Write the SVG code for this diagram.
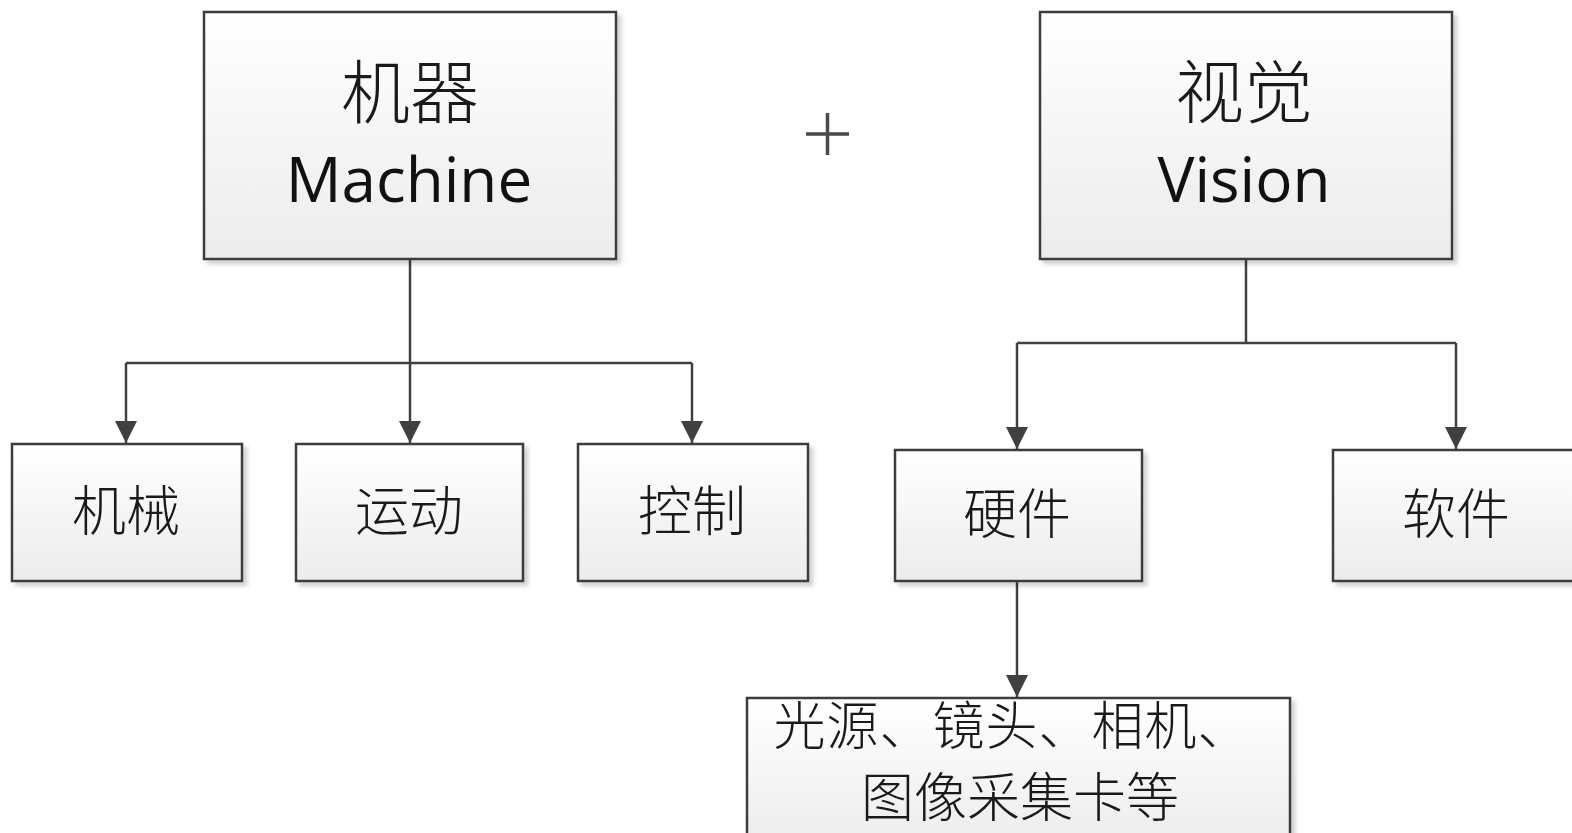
<svg xmlns="http://www.w3.org/2000/svg" width="1572" height="833" viewBox="0 0 1572 833">
<defs>
<linearGradient id="g" x1="0" y1="0" x2="0" y2="1">
<stop offset="0" stop-color="#ffffff"/>
<stop offset="1" stop-color="#ececec"/>
</linearGradient>
<filter id="sh" x="-5%" y="-5%" width="115%" height="115%">
<feDropShadow dx="4" dy="4" stdDeviation="2" flood-color="#000" flood-opacity="0.18"/>
</filter>
<marker id="a" viewBox="0 0 24 22" refX="22" refY="11" markerWidth="24" markerHeight="22" markerUnits="userSpaceOnUse" orient="auto">
<path d="M0,0 L22,11 L0,22 z" fill="#404040"/>
</marker>
</defs>
<style>
.box{fill:url(#g);stroke:#3c3c3c;stroke-width:2.5;filter:url(#sh)}
.cn{font-family:"Noto Sans CJK SC","Noto Sans",sans-serif;font-weight:300;fill:#1a1a1a;text-anchor:middle}
.en{font-family:"Open Sans","Noto Sans",sans-serif;fill:#111;text-anchor:middle}
.ln{fill:none;stroke:#404040;stroke-width:2.5}
</style>
<rect width="1572" height="833" fill="#ffffff"/>
<g id="connectors">
<path class="ln" d="M410,259 V363"/>
<path class="ln" d="M126,363 H692"/>
<path class="ln" d="M126,363 V443" marker-end="url(#a)"/>
<path class="ln" d="M410,363 V443" marker-end="url(#a)"/>
<path class="ln" d="M692,363 V443" marker-end="url(#a)"/>
<path class="ln" d="M1246,259 V343"/>
<path class="ln" d="M1017,343 H1456"/>
<path class="ln" d="M1017,343 V449" marker-end="url(#a)"/>
<path class="ln" d="M1456,343 V449" marker-end="url(#a)"/>
<path class="ln" d="M1017,581 V697" marker-end="url(#a)"/>
</g>
<g id="machine">
<rect class="box" x="204" y="12" width="412" height="247"/>
<text class="cn" x="410" y="118" font-size="69">机器</text>
<text class="en" x="409" y="202" font-size="62">Machine</text>
</g>
<g id="plus">
<path d="M806,134 H849 M827.5,113 V155" stroke="#4a4a4a" stroke-width="3.5" fill="none"/>
</g>
<g id="vision">
<rect class="box" x="1040" y="12" width="412" height="247"/>
<text class="cn" x="1244" y="118" font-size="69">视觉</text>
<text class="en" x="1244" y="202" font-size="62">Vision</text>
</g>
<g id="jixie">
<rect class="box" x="12" y="444" width="230" height="137"/>
<text class="cn" x="126" y="531" font-size="54">机械</text>
</g>
<g id="yundong">
<rect class="box" x="296" y="444" width="227" height="137"/>
<text class="cn" x="409" y="531" font-size="54">运动</text>
</g>
<g id="kongzhi">
<rect class="box" x="578" y="444" width="230" height="137"/>
<text class="cn" x="692" y="531" font-size="54">控制</text>
</g>
<g id="yingjian">
<rect class="box" x="895" y="450" width="247" height="131"/>
<text class="cn" x="1017" y="534" font-size="54">硬件</text>
</g>
<g id="ruanjian">
<rect class="box" x="1333" y="450" width="250" height="131"/>
<text class="cn" x="1456" y="534" font-size="54">软件</text>
</g>
<g id="hardware-items">
<rect class="box" x="747" y="698" width="543" height="150"/>
<text class="cn" x="1012" y="745" font-size="52" letter-spacing="1">光源、镜头、相机、</text>
<text class="cn" x="1020" y="817" font-size="53">图像采集卡等</text>
</g>
</svg>
